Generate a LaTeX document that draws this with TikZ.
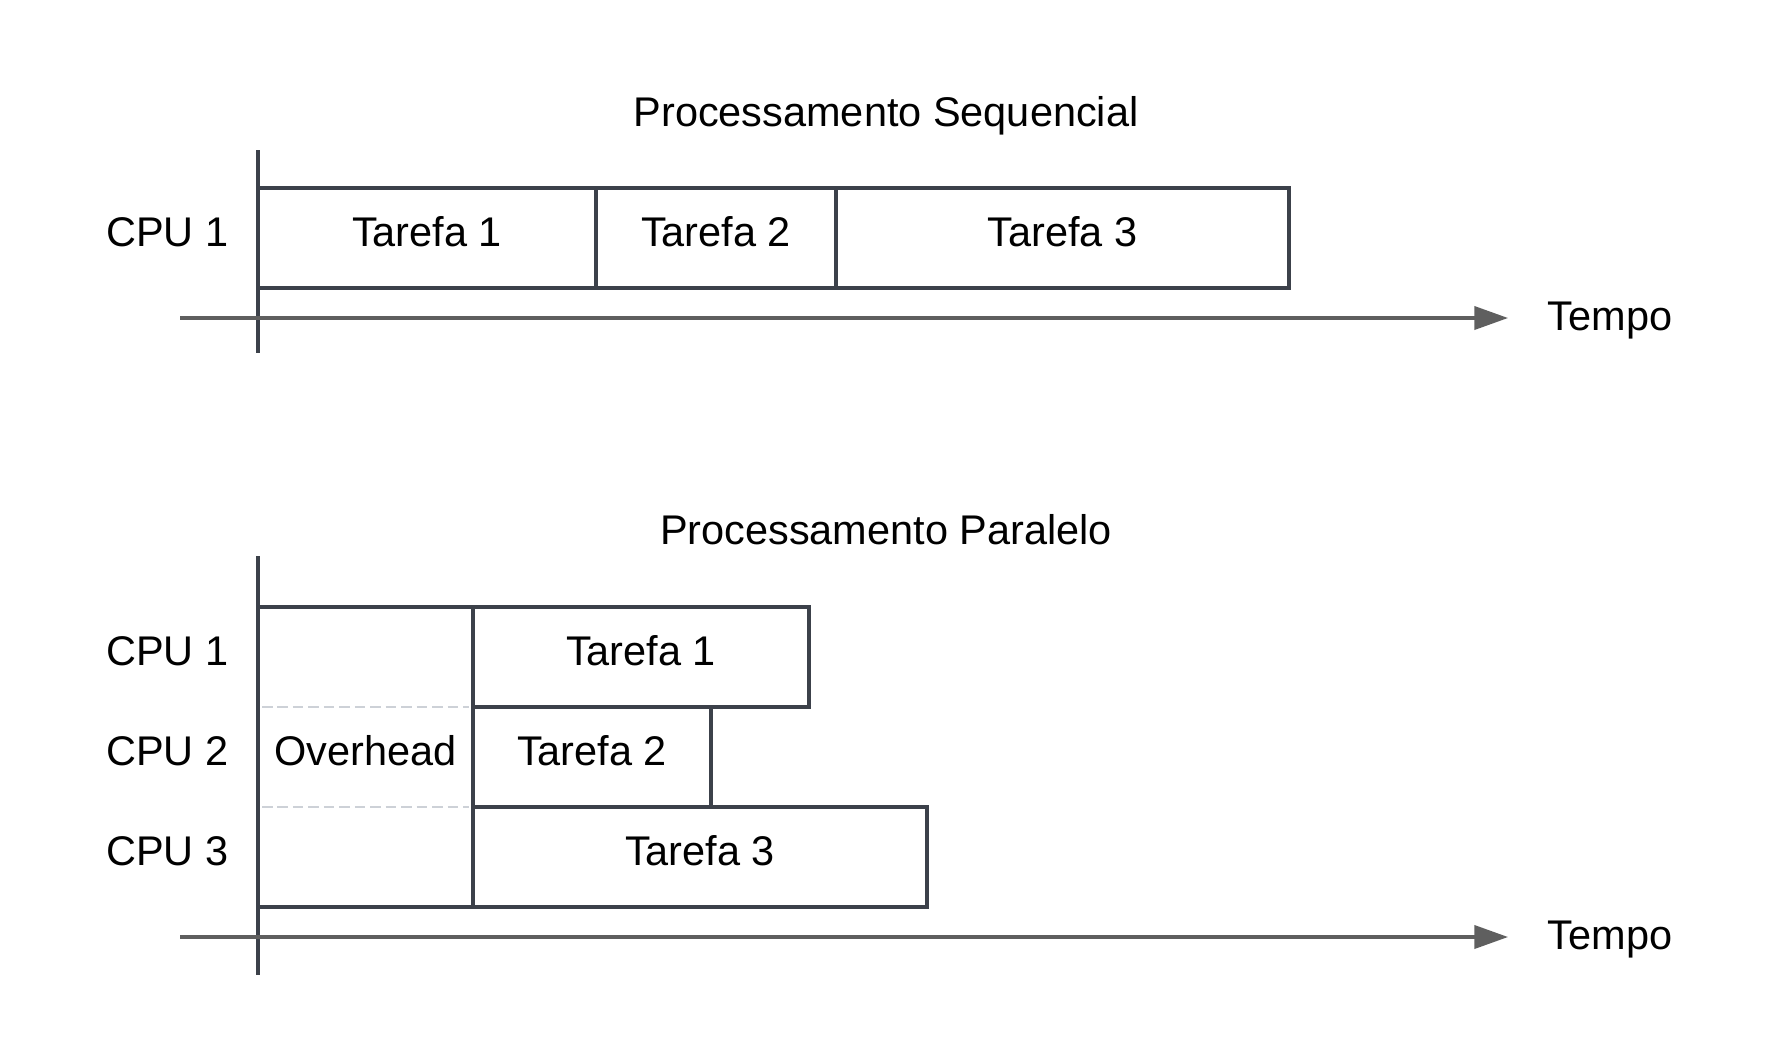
\documentclass[tikz,border=0pt]{standalone}
\usepackage{fontspec}
\setmainfont{Liberation Sans}
\usetikzlibrary{arrows.meta, positioning}
\definecolor{linhacor}{RGB}{60,65,74}
\definecolor{eixocor}{RGB}{95,95,95}
\definecolor{tracocor}{RGB}{205,209,215}

\begin{document}
\begin{tikzpicture}[font=\fontsize{11.8}{14}\selectfont,
    tarefa/.style={draw=linhacor, line width=1.15pt, inner sep=0pt, outer sep=0pt, minimum height=1cm, anchor=north west, text height=8.6pt, text depth=3.5pt},
    rotulo/.style={anchor=east, inner sep=0pt, text height=8.6pt, text depth=3.5pt},
    tempo/.style={inner sep=0pt, text height=8.6pt, text depth=1.5pt},
    titulo/.style={anchor=base, inner sep=0pt},
    eixo/.style={draw=eixocor, line width=0.95pt, -{Triangle[length=9.6pt, width=6.6pt]}},
    eixov/.style={draw=linhacor, line width=1.2pt},
    traco/.style={draw=tracocor, line width=0.65pt, dash pattern=on 3pt off 1.4pt}]
    \useasboundingbox (0,0) rectangle (17.87,-10.5);

    % sequencial
    \node[titulo] (tit1) at (8.86,-1.26) {Processamento Sequencial};
    \coordinate (v1a) at (2.58,-1.50);
    \coordinate (v1b) at (2.58,-3.53);
    \coordinate (e1a) at (1.80,-3.18);
    \coordinate (e1b) at (15.08,-3.18);
    \draw[eixov] (v1a) -- (v1b);
    \draw[eixo] (e1a) -- (e1b);
    \node[tempo, right=3.9mm of e1b] (tp1) {Tempo};
    \node[tarefa, minimum width=3.38cm] (s1) at (2.58,-1.88) {Tarefa 1};
    \node[tarefa, minimum width=2.40cm, right=0pt of s1] (s2) {Tarefa 2};
    \node[tarefa, minimum width=4.53cm, right=0pt of s2] (s3) {Tarefa 3};
    \node[rotulo] (c1) at (2.29,-2.38) {CPU 1};

    % paralelo
    \node[titulo] (tit2) at (8.86,-5.44) {Processamento Paralelo};
    \coordinate (v2a) at (2.58,-5.56);
    \coordinate (v2b) at (2.58,-9.75);
    \coordinate (e2a) at (1.80,-9.37);
    \coordinate (e2b) at (15.08,-9.37);
    \draw[eixov] (v2a) -- (v2b);
    \draw[eixo] (e2a) -- (e2b);
    \node[tempo, right=3.9mm of e2b] (tp2) {Tempo};
    \node[tarefa, minimum width=2.15cm, minimum height=3cm] (ovh) at (2.58,-6.07) {Overhead};
    \node[tarefa, minimum width=3.36cm] (p1) at (ovh.north east) {Tarefa 1};
    \node[tarefa, minimum width=2.38cm] (p2) at (p1.south west) {Tarefa 2};
    \node[tarefa, minimum width=4.54cm] (p3) at (p2.south west) {Tarefa 3};
    \draw[traco, shorten <=0.4mm, shorten >=0.4mm] (ovh.west |- p1.south) -- (ovh.east |- p1.south);
    \draw[traco, shorten <=0.4mm, shorten >=0.4mm] (ovh.west |- p2.south) -- (ovh.east |- p2.south);
    \node[rotulo] (c21) at (2.29,-6.57) {CPU 1};
    \node[rotulo] (c22) at (2.29,-7.57) {CPU 2};
    \node[rotulo] (c23) at (2.29,-8.57) {CPU 3};
\end{tikzpicture}
\end{document}
